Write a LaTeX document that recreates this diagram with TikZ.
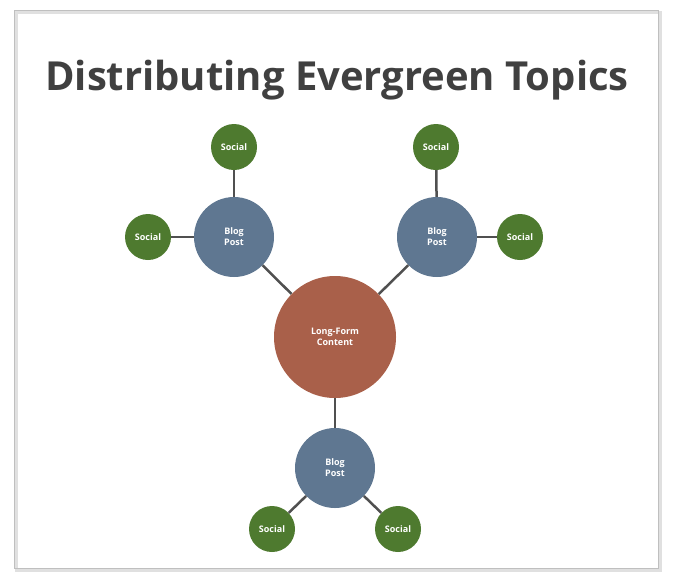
\documentclass[tikz,border=0pt]{standalone}
\usepackage{fontspec}
\setmainfont{Open Sans}
\usetikzlibrary{positioning}
\definecolor{hubred}{HTML}{A9604A}
\definecolor{blogblue}{HTML}{5F7791}
\definecolor{socialgreen}{HTML}{4E7A2F}
\definecolor{titlegray}{HTML}{404040}
\definecolor{linkgray}{HTML}{505050}
\tikzset{
  hub/.style={circle,fill=hubred,minimum size=122pt,inner sep=0pt,text=white,font=\bfseries\fontsize{9}{11}\selectfont,align=center},
  blog/.style={circle,fill=blogblue,minimum size=80pt,inner sep=0pt,text=white,font=\bfseries\fontsize{9}{11}\selectfont,align=center},
  social/.style={circle,fill=socialgreen,minimum size=46pt,inner sep=0pt,text=white,font=\bfseries\fontsize{9}{11}\selectfont},
  link/.style={draw=linkgray,line width=2.5pt}
}
\begin{document}
\begin{tikzpicture}[x=1pt,y=-1pt]

  \useasboundingbox (0,0) rectangle (676,582);
  % frame
  \draw[black!12,line width=3pt] (16,12) rectangle (660,570);
  \draw[black!25,line width=1pt] (14,10) rectangle (658,568);

  \node[text=titlegray,font=\bfseries\fontsize{40}{48}\selectfont] (title) at (337,80) {Distributing Evergreen Topics};

  % nodes
  \node[hub] (hub) at (335,337) {Long-Form\\Content};
  \node[blog] (bl) at (234,237) {Blog\\Post};
  \node[blog] (br) at (437,237) {Blog\\Post};
  \node[blog] (bb) at (335,468) {Blog\\Post};
  \node[social] (s1) at (234,147) {Social};
  \node[social] (s2) at (148,237) {Social};
  \node[social] (s3) at (436,147) {Social};
  \node[social] (s4) at (520,237) {Social};
  \node[social] (s5) at (272,529) {Social};
  \node[social] (s6) at (398,529) {Social};

  % links
  \foreach \a/\b in {hub/bl,hub/br,hub/bb,bl/s1,bl/s2,br/s3,br/s4,bb/s5,bb/s6}
    \path[link] (\a) -- (\b);

\end{tikzpicture}
\end{document}
